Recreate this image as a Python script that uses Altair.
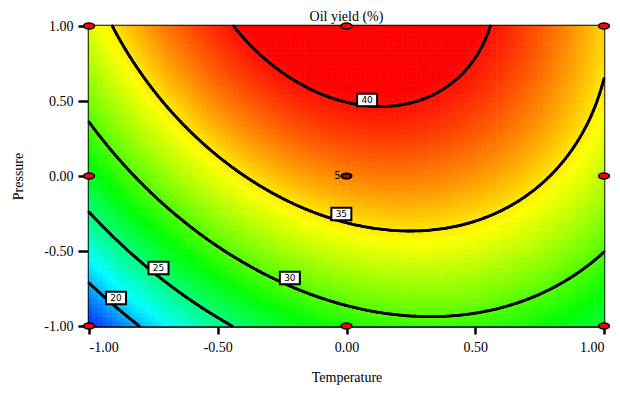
import numpy as np
import pandas as pd
import altair as alt

# Quadratic response-surface model (coded units)
terms = ["Intercept", "A", "B", "AB", "A^2", "B^2"]
coefs = [37.26, 2.85, 6.60, -1.98, -7.23, -2.09]

levels = [20, 25, 30, 35, 40]
label_text = ["40", "35", "30", "25", "20"]
label_x = [0.08, -0.02, -0.22, -0.73, -0.895]
label_y = [0.507, -0.253, -0.68, -0.613, -0.813]

design_x = [-1, 0, 1, -1, 1, -1, 0, 1]
design_y = [1, 1, 1, 0, 0, -1, -1, -1]
center_x = [0]
center_y = [0]
center_reps = ["5"]

ticks = [-1, -0.5, 0, 0.5, 1]


def surface(a, b):
    b0, b1, b2, b12, b11, b22 = coefs
    return b0 + b1 * a + b2 * b + b12 * a * b + b11 * a * a + b22 * b * b


# colour grid
nx, ny = 110, 66
ex = np.linspace(-1, 1, nx + 1)
ey = np.linspace(-1, 1, ny + 1)
rows = []
for j in range(ny):
    for i in range(nx):
        cx = (ex[i] + ex[i + 1]) / 2
        cy = (ey[j] + ey[j + 1]) / 2
        rows.append({"x": ex[i], "x2": ex[i + 1], "y": ey[j], "y2": ey[j + 1],
                     "z": float(surface(cx, cy))})
grid = pd.DataFrame(rows)
zmin, zmax = grid["z"].min(), grid["z"].max()

# contour segments (marching squares)
xs = np.linspace(-1, 1, 241)
ys = np.linspace(-1, 1, 145)
XX, YY = np.meshgrid(xs, ys)
Z = surface(XX, YY)
segs = []
for lev in levels:
    for j in range(len(ys) - 1):
        for i in range(len(xs) - 1):
            c = [(xs[i], ys[j], Z[j, i]), (xs[i + 1], ys[j], Z[j, i + 1]),
                 (xs[i + 1], ys[j + 1], Z[j + 1, i + 1]), (xs[i], ys[j + 1], Z[j + 1, i])]
            pts = []
            for k in range(4):
                xa, ya, za = c[k]
                xb, yb, zb = c[(k + 1) % 4]
                if (za < lev) != (zb < lev):
                    t = (lev - za) / (zb - za)
                    pts.append((xa + t * (xb - xa), ya + t * (yb - ya)))
            for p in range(0, len(pts) - 1, 2):
                segs.append({"x": pts[p][0], "y": pts[p][1],
                             "x2": pts[p + 1][0], "y2": pts[p + 1][1], "level": lev})
seg_df = pd.DataFrame(segs)

labels_df = pd.DataFrame({"x": label_x, "y": label_y, "t": label_text})
design_df = pd.DataFrame({"x": design_x, "y": design_y})
center_df = pd.DataFrame({"x": center_x, "y": center_y, "t": center_reps})

xscale = alt.Scale(domain=[-1, 1], nice=False, zero=False)
yscale = alt.Scale(domain=[-1, 1], nice=False, zero=False)
lab_expr = "replace(format(datum.value, '.2f'), '\u2212', '-')"
xaxis = alt.Axis(values=ticks, labelExpr=lab_expr, title="Temperature", tickSize=8,
                 labelPadding=6, titlePadding=16)
yaxis = alt.Axis(values=ticks, labelExpr=lab_expr, title="Pressure", tickSize=11,
                 labelPadding=5, titlePadding=18)

cscale = alt.Scale(domain=[zmin, 21.8, 28.0, 34.5, 40.3, zmax],
                   range=["#0030ff", "#00ffff", "#00ff00", "#ffff00", "#ff0000", "#ff0000"],
                   interpolate="rgb")

heat = alt.Chart(grid).mark_rect(strokeWidth=0.6).encode(
    x=alt.X("x:Q", scale=xscale, axis=xaxis),
    x2="x2:Q",
    y=alt.Y("y:Q", scale=yscale, axis=yaxis),
    y2="y2:Q",
    color=alt.Color("z:Q", scale=cscale, legend=None),
    stroke=alt.Stroke("z:Q", scale=cscale, legend=None),
)

lines = alt.Chart(seg_df).mark_rule(color="black", strokeWidth=2.8, strokeCap="round").encode(
    x="x:Q", y="y:Q", x2="x2:Q", y2="y2:Q"
)

box_path = "M-1,-0.62H1V0.62H-1Z"
boxes = alt.Chart(labels_df).mark_point(
    shape=box_path, size=400, filled=True, fill="white", stroke="black",
    strokeWidth=2, opacity=1
).encode(x="x:Q", y="y:Q")

btext = alt.Chart(labels_df).mark_text(
    font="DejaVu Sans", fontSize=9, color="black", baseline="middle", align="center"
).encode(x="x:Q", y="y:Q", text="t:N")

ell = "M-1,0A1,0.55 0 1,1 1,0A1,0.55 0 1,1 -1,0Z"
pts = alt.Chart(design_df).mark_point(
    shape=ell, size=120, filled=True, fill="#ff0000", stroke="black", strokeWidth=1.5, opacity=1
).encode(x="x:Q", y="y:Q")

cpt = alt.Chart(center_df).mark_point(
    shape=ell, size=120, filled=True, fill="#111111", stroke="black", strokeWidth=1.2, opacity=1
).encode(x="x:Q", y="y:Q")
cdash = alt.Chart(center_df).mark_point(
    shape="M-1,0H1", size=40, stroke="#ff0000", strokeWidth=1.5, opacity=1
).encode(x="x:Q", y="y:Q")
ctext = alt.Chart(center_df).mark_text(
    font="DejaVu Sans", fontSize=10, color="black", align="right", baseline="middle", dx=-6
).encode(x="x:Q", y="y:Q", text="t:N")

chart = alt.layer(heat, lines, boxes, btext, pts, cpt, cdash, ctext).properties(
    width=515, height=300,
    title=alt.TitleParams("Oil yield (%)", font="Liberation Serif", fontSize=14,
                          fontWeight="normal", color="black", anchor="middle",
                          frame="group", offset=-5),
    autosize=alt.AutoSizeParams(type="none"),
    padding={"left": 81, "top": 18, "right": 8, "bottom": 60},
).configure_view(stroke="black", strokeWidth=2.5).configure_axis(
    grid=False, domainColor="black", domainWidth=2.5, tickColor="black", tickWidth=2.5,
    labelFont="Liberation Serif", labelFontSize=14, labelColor="black",
    titleFont="Liberation Serif", titleFontSize=14, titleFontWeight="normal", titleColor="black",
)

chart.save("out.html", embed_options={"renderer": "svg", "actions": False})
